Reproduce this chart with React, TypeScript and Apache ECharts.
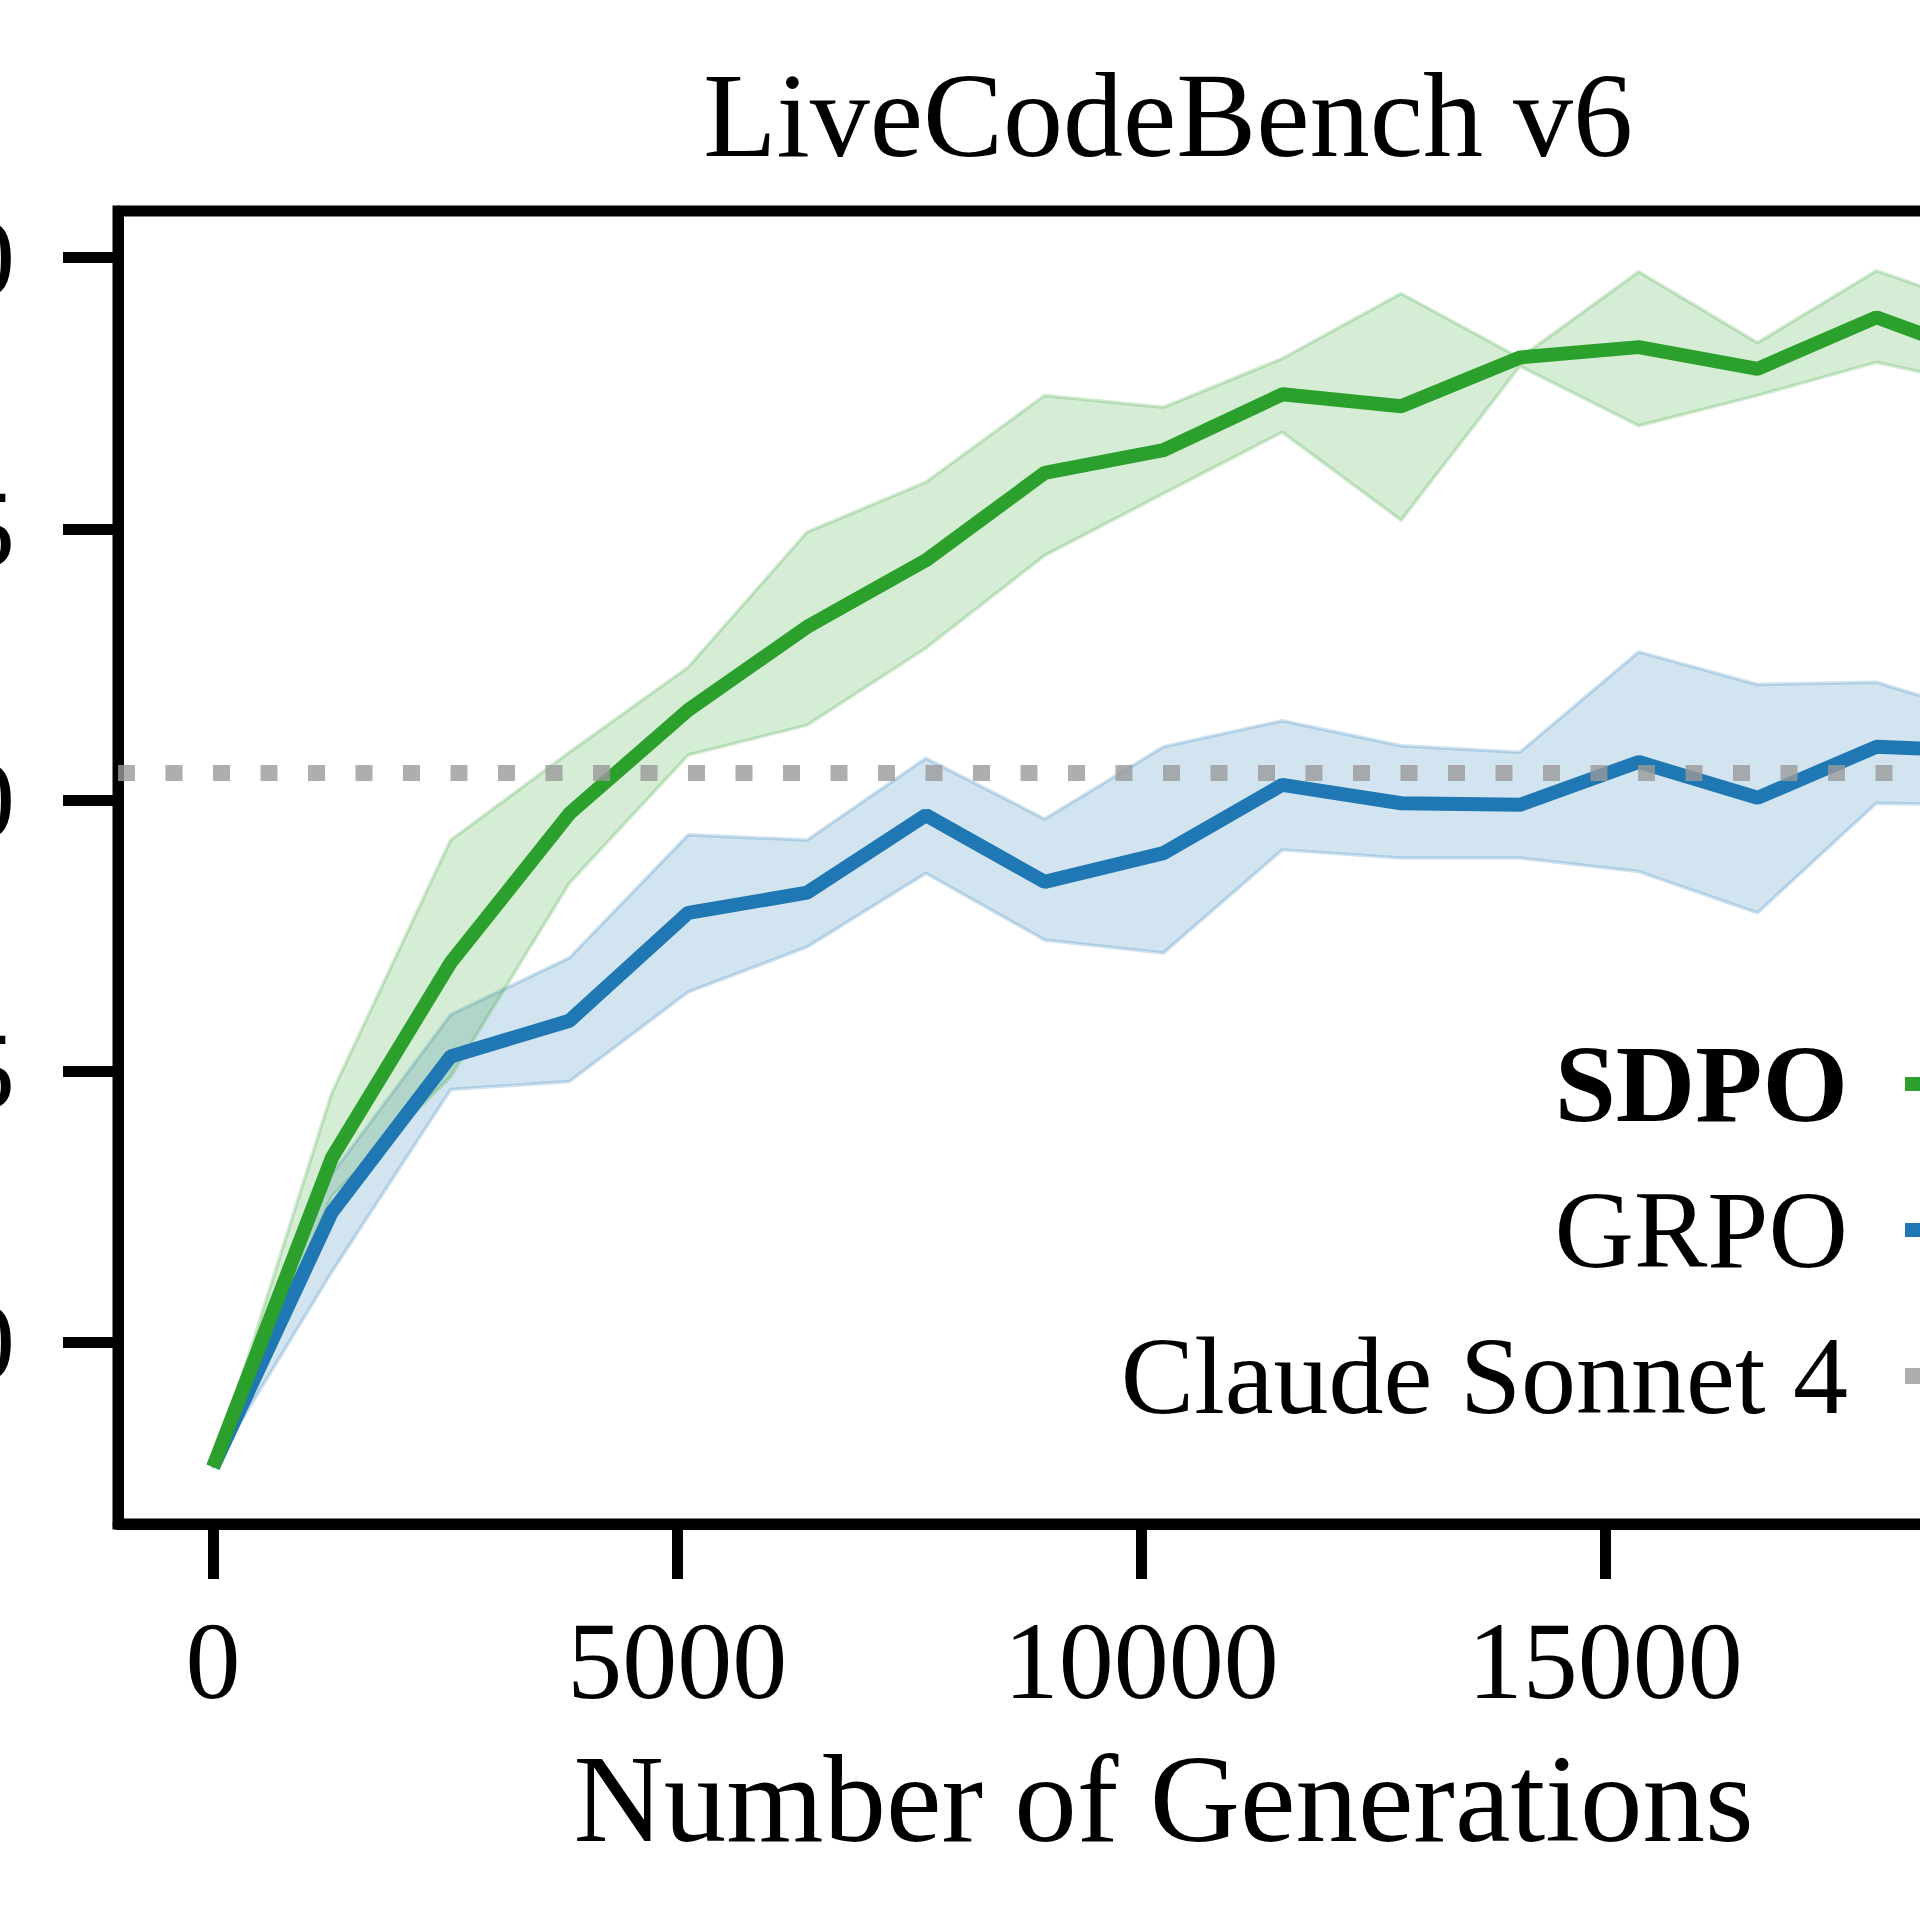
import { useEffect, useRef } from "react";
import * as echarts from "echarts";

// generations at which each run was evaluated
const GENERATIONS = [
  0, 1280, 2560, 3840, 5120, 6400, 7680, 8960, 10240, 11520, 12800, 14080,
  15360, 16640, 17920, 19200, 20480,
];

const SDPO_MEAN = [
  27.7, 33.4, 37.0, 39.75, 41.66, 43.19, 44.42, 46.03, 46.45, 47.48, 47.26,
  48.16, 48.35, 47.95, 48.9, 48.1, 48.6,
];
const SDPO_UPPER = [
  27.7, 34.6, 39.26, 40.88, 42.45, 44.94, 45.86, 47.46, 47.24, 48.14, 49.34,
  48.15, 49.74, 48.43, 49.76, 49.0, 49.3,
];
const SDPO_LOWER = [
  27.7, 32.7, 34.9, 38.47, 40.83, 41.38, 42.8, 44.51, 45.65, 46.78, 45.16,
  48.0, 46.9, 47.46, 48.07, 47.6, 47.9,
];

const GRPO_MEAN = [
  27.7, 32.4, 35.27, 35.93, 37.92, 38.29, 39.72, 38.49, 39.02, 40.28, 39.94,
  39.91, 40.7, 40.04, 40.98, 40.9, 41.0,
];
const GRPO_UPPER = [
  27.7, 33.1, 36.04, 37.09, 39.36, 39.26, 40.77, 39.65, 40.98, 41.46, 41.0,
  40.88, 42.73, 42.13, 42.17, 41.5, 41.8,
];
const GRPO_LOWER = [
  27.7, 31.3, 34.66, 34.81, 36.46, 37.29, 38.65, 37.42, 37.18, 39.08, 38.93,
  38.93, 38.68, 37.92, 39.94, 39.9, 40.0,
];

const CLAUDE_SONNET_4 = 40.5;

const X_TICKS = [0, 5000, 10000, 15000, 20000];
const Y_TICKS = [30, 35, 40, 45, 50];

const GREEN = "#2ca02c";
const BLUE = "#1f77b4";
const GREY = "#9a9a9a";
const FONT = "Liberation Serif";

const pts = (ys: number[]) => GENERATIONS.map((x, i) => [x, ys[i]]);

// shaded min/max band, drawn as one polygon through the axes
function band(key: string, rgb: string, upper: number[], lower: number[]) {
  return {
    name: `${key} band`,
    type: "custom",
    silent: true,
    data: pts(upper),
    encode: { x: 0, y: 1 },
    renderItem: (params: any, api: any) => {
      if (params.dataIndex !== 0) return null;
      const top = GENERATIONS.map((x, i) => api.coord([x, upper[i]]));
      const bottom = GENERATIONS.map((x, i) => api.coord([x, lower[i]])).reverse();
      return {
        type: "polygon",
        shape: { points: [...top, ...bottom] },
        style: {
          fill: `rgba(${rgb},0.2)`,
          stroke: `rgba(${rgb},0.22)`,
          lineWidth: 3.5,
          lineJoin: "round",
        },
      };
    },
  };
}

export default function App() {
  const ref = useRef<HTMLDivElement | null>(null);

  useEffect(() => {
    const chart = echarts.init(ref.current!, undefined, { renderer: "svg" });
    chart.setOption({
      animation: false,
      backgroundColor: "#fff",
      textStyle: { fontFamily: FONT, color: "#000" },
      title: {
        text: "LiveCodeBench v6",
        left: 1163,
        textAlign: "center",
        top: 50,
        textStyle: { fontFamily: FONT, fontSize: 120, fontWeight: "normal", color: "#000" },
      },
      grid: {
        left: 118,
        top: 211,
        width: 2091,
        height: 1313,
        show: true,
        borderColor: "#000",
        borderWidth: 11,
        containLabel: false,
        outerBoundsMode: "none",
      },
      legend: {
        data: [
          { name: "SDPO", textStyle: { fontWeight: "bold" } },
          "GRPO",
          { name: "Claude Sonnet 4", lineStyle: { width: 16 } },
        ],
        orient: "vertical",
        align: "right",
        right: 267,
        top: 1029,
        padding: 0,
        itemGap: 36,
        itemWidth: 220,
        itemHeight: 16,
        lineStyle: { width: 14 },
        textStyle: {
          fontFamily: FONT,
          fontSize: 110,
          lineHeight: 110,
          color: "#000",
          padding: [0, 52, 0, 0],
        },
      },
      xAxis: {
        type: "value",
        min: -1024,
        max: 21504,
        name: "Number of Generations",
        nameLocation: "middle",
        nameGap: 212,
        nameTextStyle: { fontFamily: FONT, fontSize: 125, color: "#000" },
        axisLine: { show: true, onZero: false, lineStyle: { color: "#000", width: 11 } },
        axisTick: { show: true, customValues: X_TICKS, length: 55, lineStyle: { color: "#000", width: 11 } },
        axisLabel: {
          customValues: X_TICKS,
          margin: 82,
          fontFamily: FONT,
          fontSize: 110,
          color: "#000",
          formatter: (v: number) => String(v),
        },
        splitLine: { show: false },
      },
      yAxis: {
        type: "value",
        min: 26.65,
        max: 50.86,
        axisLine: { show: true, onZero: false, lineStyle: { color: "#000", width: 11 } },
        axisTick: { show: true, customValues: Y_TICKS, length: 55, lineStyle: { color: "#000", width: 11 } },
        axisLabel: {
          customValues: Y_TICKS,
          margin: 103,
          fontFamily: FONT,
          fontSize: 110,
          color: "#000",
          formatter: (v: number) => String(v),
        },
        splitLine: { show: false },
      },
      series: [
        band("GRPO", "31,119,180", GRPO_UPPER, GRPO_LOWER),
        band("SDPO", "44,160,44", SDPO_UPPER, SDPO_LOWER),
        {
          name: "GRPO",
          type: "line",
          data: pts(GRPO_MEAN),
          symbol: "none",
          color: BLUE,
          lineStyle: { color: BLUE, width: 14 },
        },
        {
          name: "SDPO",
          type: "line",
          data: pts(SDPO_MEAN),
          symbol: "none",
          color: GREEN,
          lineStyle: { color: GREEN, width: 14 },
        },
        {
          name: "Claude Sonnet 4",
          type: "line",
          data: [],
          symbol: "none",
          color: GREY,
          lineStyle: { color: GREY, width: 16, type: [17, 30.5], cap: "butt", opacity: 0.8 },
          markLine: {
            silent: true,
            symbol: ["none", "none"],
            label: { show: false },
            lineStyle: { color: GREY, width: 16, type: [17, 30.5], cap: "butt", opacity: 0.8 },
            data: [{ yAxis: CLAUDE_SONNET_4 }],
          },
        },
      ],
    });
    return () => chart.dispose();
  }, []);

  return (
    <div
      style={{
        position: "fixed",
        left: 0,
        top: 0,
        width: 1920,
        height: 1920,
        overflow: "hidden",
        background: "#fff",
      }}
    >
      <div ref={ref} style={{ width: 2400, height: 1920 }} />
    </div>
  );
}
